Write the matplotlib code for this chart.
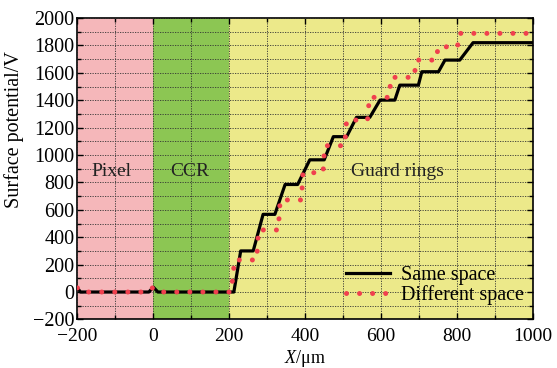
import numpy as np
import matplotlib
matplotlib.use('Agg')
import matplotlib.pyplot as plt

plt.rcParams['font.family'] = 'Liberation Serif'
plt.rcParams['mathtext.fontset'] = 'custom'
plt.rcParams['mathtext.it'] = 'Liberation Serif:italic'
plt.rcParams['mathtext.rm'] = 'Liberation Serif'

# data (breakpoints of the two curves)
same_x = [-200, -192, -12, 0, 12, 212, 230, 263, 289, 320, 347, 380, 412, 450, 474, 509,
          535, 570, 597, 636, 649, 698, 707, 751, 768, 807, 842, 1000]
same_y = [30, 0, 0, 35, 0, 0, 300, 300, 567, 567, 785, 785, 965, 965, 1134, 1134,
          1275, 1275, 1401, 1401, 1510, 1510, 1608, 1608, 1693, 1693, 1820, 1820]

diff_x = [-200, -190, -15, -3, 8, 205, 214, 272, 277, 329, 334, 390, 394, 447, 451, 504,
          509, 564, 569, 621, 626, 687, 692, 745, 750, 801, 806, 1000]
diff_y = [30, 0, 0, 30, 0, 0, 234, 234, 453, 453, 672, 672, 871, 871, 1068, 1068,
          1255, 1255, 1421, 1421, 1567, 1567, 1693, 1693, 1790, 1790, 1888, 1888]

regions = [(-200, 0), (0, 200), (200, 1000)]
region_names = ['Pixel', 'CCR', 'Guard rings']
region_colors = ['#f5b7ba', '#8cc653', '#ece98a']
label_x = [-110, 96, 644]
label_y = 878

fig = plt.figure(figsize=(5.57, 3.68), dpi=100)
ax = fig.add_axes([0.139, 0.132, 0.818, 0.819])

for (a, b), c in zip(regions, region_colors):
    ax.axvspan(a, b, color=c, zorder=0, lw=0)
for name, lx in zip(region_names, label_x):
    ax.text(lx, label_y, name, fontsize=14, ha='center', va='center', color='#222222')

ax.plot(same_x, same_y, color='black', lw=2.3, label='Same space', zorder=3)
ax.plot(diff_x, diff_y, color='#f0404e', lw=3.6, linestyle=(0, (0.01, 2.6)),
        dash_capstyle='round', label='Different space', zorder=4)

ax.set_xlim(-200, 1000)
ax.set_ylim(-200, 2000)
ax.set_xticks(np.arange(-200, 1001, 200))
ax.set_xticks(np.arange(-200, 1001, 100), minor=True)
ax.set_yticks(np.arange(-200, 2001, 200))
ax.set_yticks(np.arange(-200, 2001, 100), minor=True)
ax.set_xticklabels(['\u2212200', '0', '200', '400', '600', '800', '1000'])
ax.set_yticklabels(['\u2212200'] + [str(v) for v in range(0, 2001, 200)])
ax.tick_params(which='both', direction='in', top=True, right=True, labelsize=14.5)
ax.tick_params(axis='y', pad=2)
ax.tick_params(axis='x', pad=6, labelsize=14)
ax.tick_params(which='major', length=4, width=1)
ax.tick_params(which='minor', length=3, width=1)
ax.grid(which='both', color='#333333', linestyle=(0, (1.5, 1.5)), linewidth=0.6, zorder=1)
ax.set_axisbelow(False)
for s in ax.spines.values():
    s.set_linewidth(1.2)

ax.set_xlabel(r'$X$/μm', fontsize=13, va='top')
ax.xaxis.set_label_coords(0.5, -0.096)
ax.set_ylabel('Surface potential/V', fontsize=14.5)
ax.yaxis.set_label_coords(-0.118, 0.63)

ax.legend(loc='lower right', bbox_to_anchor=(1.01, 0.0), frameon=False, fontsize=14.5,
          handlelength=2.2, handletextpad=0.5, labelspacing=0.0, borderpad=0.2)

fig.savefig('out.png', dpi=100)
